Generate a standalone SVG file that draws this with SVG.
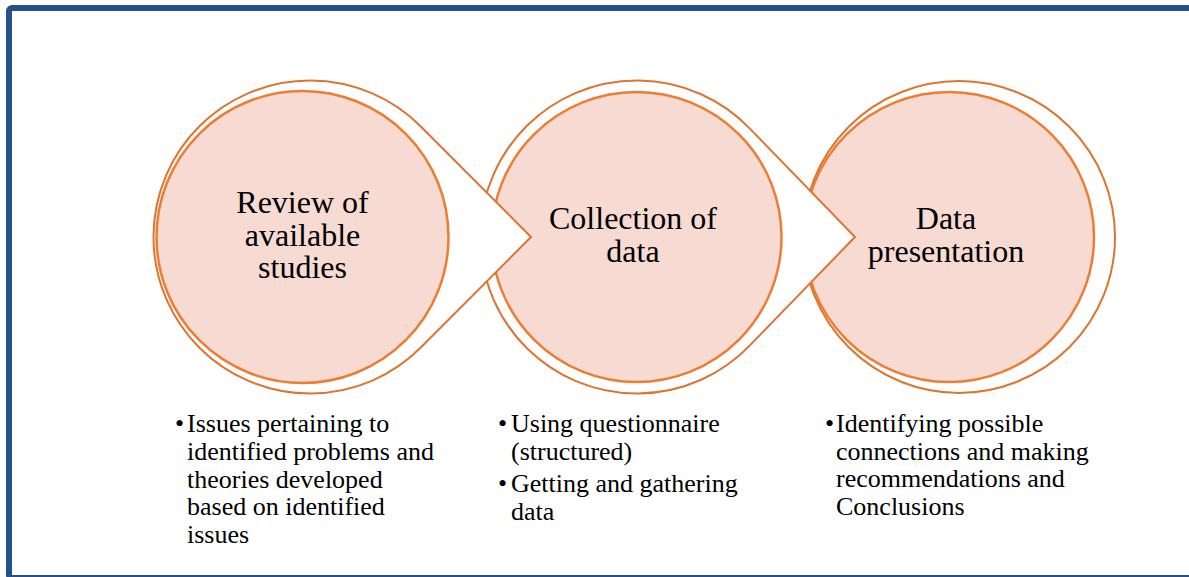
<svg xmlns="http://www.w3.org/2000/svg" width="1189" height="577" viewBox="0 0 1189 577">
  <defs>
    <style>
      .frame { fill: #ffffff; stroke: #25508A; stroke-width: 6; }
      .outline { fill: #ffffff; stroke: #DD7431; stroke-width: 2; stroke-linejoin: miter; }
      .disc { fill: #F7DAD2; stroke: #ED7D31; stroke-width: 2.5; }
      .title { font-size: 32px; fill: #000000; text-anchor: middle; }
      .note { font-size: 26px; fill: #000000; }
    </style>
  </defs>

  <!-- page frame -->
  <rect class="frame" x="9" y="8" width="1188" height="570" rx="3"/>

  <g font-family="Liberation Serif, DejaVu Serif, serif">
    <!-- last stage first so earlier arrow tips sit on top -->
    <g id="node-data-presentation">
      <circle class="outline" cx="959" cy="237" r="156"/>
      <circle class="disc" cx="949" cy="237" r="145"/>
      <text class="title" x="946" y="229">Data</text>
      <text class="title" x="946" y="262">presentation</text>
    </g>

    <g id="node-collection">
      <path class="outline" d="M749.4 128.1 L855 237 L749.4 345.9 A156.5 156.5 0 1 1 749.4 128.1 Z"/>
      <circle class="disc" cx="636.5" cy="237" r="145"/>
      <text class="title" x="633" y="229">Collection of</text>
      <text class="title" x="633" y="262">data</text>
    </g>

    <g id="node-review">
      <path class="outline" d="M420.8 126.5 L531 237 L420.8 347.5 A156.5 156.5 0 1 1 420.8 126.5 Z"/>
      <circle class="disc" cx="302.5" cy="237" r="146"/>
      <text class="title" x="302.5" y="213">Review of</text>
      <text class="title" x="302.5" y="245.5">available</text>
      <text class="title" x="302.5" y="278">studies</text>
    </g>

    <!-- the flow arrows are the pointed tips of the stage outlines -->
    <g id="connectors"></g>

    <g id="notes-review">
      <text class="note" x="175" y="432">•</text>
      <text class="note" x="187" y="432">Issues pertaining to</text>
      <text class="note" x="187" y="460">identified problems and</text>
      <text class="note" x="187" y="487.5">theories developed</text>
      <text class="note" x="187" y="515">based on identified</text>
      <text class="note" x="187" y="542.5">issues</text>
    </g>

    <g id="notes-collection">
      <text class="note" x="498" y="432">•</text>
      <text class="note" x="511" y="432">Using questionnaire</text>
      <text class="note" x="511" y="459.5">(structured)</text>
      <text class="note" x="498" y="492">•</text>
      <text class="note" x="511" y="492">Getting and gathering</text>
      <text class="note" x="511" y="519.5">data</text>
    </g>

    <g id="notes-presentation">
      <text class="note" x="825" y="432">•</text>
      <text class="note" x="836" y="432">Identifying possible</text>
      <text class="note" x="836" y="459.5">connections and making</text>
      <text class="note" x="836" y="487">recommendations and</text>
      <text class="note" x="836" y="514.5">Conclusions</text>
    </g>
  </g>
</svg>
